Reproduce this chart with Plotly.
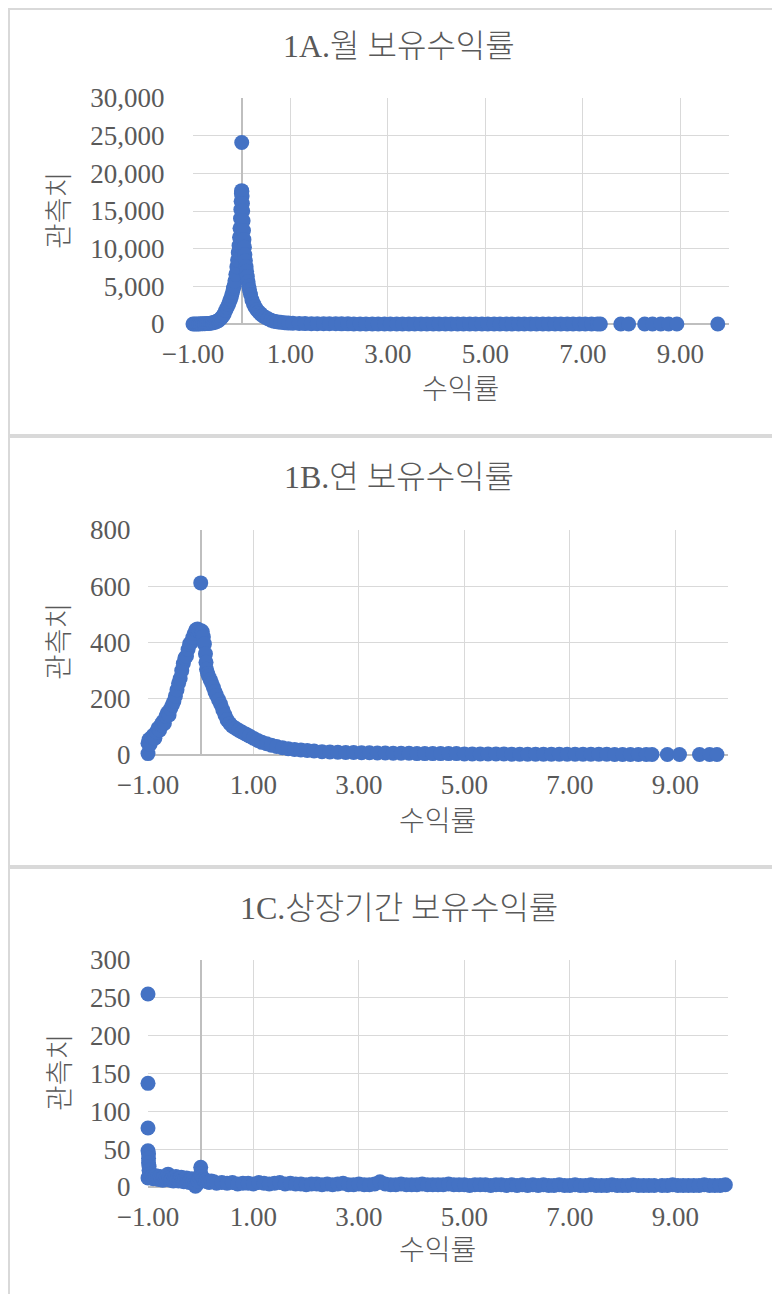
import plotly.graph_objects as go

W, H = 780, 1294
OFF = 8  # page body margin of the html page

# ---------------- data: 1A monthly holding returns ----------------
monthly_x = [
    -1.00, -0.96, -0.92, -0.88, -0.84, -0.80, -0.76, -0.72, -0.68, -0.64,
    -0.60, -0.56, -0.52, -0.48, -0.45, -0.42, -0.39, -0.36, -0.33, -0.30,
    -0.27, -0.25, -0.23, -0.21, -0.19, -0.17, -0.16, -0.14, -0.12, -0.10,
    -0.085, -0.07, -0.055, -0.045, -0.035, -0.025, -0.018, -0.012, -0.006, -0.002,
    0.00, 0.003, 0.008, 0.014, 0.02, 0.028, 0.036, 0.045, 0.055, 0.065,
    0.075, 0.09, 0.10, 0.115, 0.13, 0.145, 0.16, 0.18, 0.21, 0.24,
    0.27, 0.31, 0.35, 0.39, 0.43, 0.48, 0.54, 0.60, 0.66, 0.72,
    0.80, 0.88, 0.96, 1.05, 1.18, 1.30, 1.43, 1.55, 1.68, 1.80,
    1.93, 2.05, 2.18, 2.30, 2.43, 2.55, 2.68, 2.80, 2.93, 3.05,
    3.18, 3.30, 3.43, 3.55, 3.68, 3.80, 3.93, 4.05, 4.18, 4.30,
    4.43, 4.55, 4.68, 4.80, 4.93, 5.05, 5.18, 5.30, 5.43, 5.55,
    5.68, 5.80, 5.93, 6.05, 6.18, 6.30, 6.43, 6.55, 6.68, 6.80,
    6.93, 7.05, 7.18, 7.30, 7.36, 7.78, 7.94, 8.27, 8.43, 8.60,
    8.76, 8.93, 9.77,
]
monthly_y = [
    0, 5, 10, 15, 20, 30, 40, 60, 80, 110,
    150, 220, 320, 450, 600, 800, 1050, 1350, 1800, 2200,
    2600, 3000, 3300, 3700, 4200, 4700, 5000, 5700, 6600, 7600,
    8500, 9500, 10400, 11500, 12700, 14000, 15200, 16300, 17300, 17700,
    24100, 17600, 17000, 16000, 15000, 13700, 12400, 11200, 10200, 9200,
    8400, 7600, 7000, 6300, 5600, 5000, 4500, 3900, 3200, 2700,
    2300, 1900, 1600, 1350, 1100, 900, 700, 500, 380, 300,
    220, 160, 120, 90, 70, 55, 45, 38, 32, 28,
    24, 20, 18, 16, 14, 12, 11, 10, 9, 8,
    7, 7, 6, 6, 5, 5, 5, 4, 4, 4,
    3, 3, 3, 3, 3, 2, 2, 2, 2, 2,
    2, 2, 2, 1, 1, 1, 1, 1, 1, 1,
    1, 1, 1, 1, 1, 1, 1, 1, 1, 1,
    1, 1, 1,
]

# ---------------- data: 1B annual holding returns ----------------
annual_x = [
    -1.00, -1.00, -0.98, -0.96, -0.93, -0.90, -0.87, -0.84, -0.81, -0.78,
    -0.75, -0.72, -0.69, -0.66, -0.63, -0.60, -0.57, -0.54, -0.51, -0.48,
    -0.45, -0.42, -0.39, -0.36, -0.33, -0.30, -0.27, -0.24, -0.21, -0.18,
    -0.15, -0.12, -0.09, -0.06, -0.03, 0.00, 0.01, 0.03, 0.05, 0.07,
    0.09, 0.10, 0.11, 0.13, 0.15, 0.18, 0.21, 0.24, 0.27, 0.30,
    0.34, 0.38, 0.42, 0.46, 0.50, 0.55, 0.60, 0.66, 0.72, 0.78,
    0.85, 0.92, 1.00, 1.08, 1.16, 1.25, 1.34, 1.44, 1.55, 1.66,
    1.78, 1.90, 2.02, 2.15, 2.30, 2.45, 2.60, 2.75, 2.90, 3.05,
    3.20, 3.35, 3.50, 3.65, 3.80, 3.95, 4.10, 4.25, 4.40, 4.55,
    4.70, 4.85, 5.00, 5.15, 5.30, 5.45, 5.60, 5.75, 5.90, 6.05,
    6.20, 6.35, 6.50, 6.65, 6.80, 6.95, 7.10, 7.25, 7.40, 7.55,
    7.70, 7.85, 8.00, 8.15, 8.30, 8.45, 8.56, 8.85, 9.08, 9.46,
    9.65, 9.79,
]
annual_y = [
    5, 42, 55, 38, 62, 70, 60, 82, 95, 88,
    108, 118, 112, 138, 150, 142, 165, 178, 190, 210,
    232, 255, 272, 300, 325, 345, 352, 375, 395, 400,
    418, 432, 445, 448, 440, 612, 442, 438, 420, 395,
    360, 330, 305, 290, 280, 268, 255, 240, 225, 212,
    196, 180, 160, 142, 125, 112, 102, 95, 88, 82,
    75, 68, 60, 52, 45, 40, 35, 30, 26, 22,
    20, 18, 16, 14, 12, 11, 10, 9, 9, 8,
    8, 7, 7, 6, 6, 6, 5, 5, 5, 5,
    5, 5, 4, 4, 4, 4, 4, 4, 3, 3,
    3, 3, 3, 3, 3, 3, 3, 3, 3, 3,
    3, 2, 2, 2, 2, 2, 2, 2, 2, 2,
    2, 2,
]

# ---------------- data: 1C listing-period holding returns ----------------
listing_x = [
    -1.00, -1.00, -1.00, -1.00, -0.99, -0.99, -0.99, -0.98, -0.98, -1.00,
    -0.97, -0.95, -0.92, -0.90, -0.87, -0.85, -0.82, -0.80, -0.77, -0.75,
    -0.72, -0.70, -0.67, -0.65, -0.62, -0.60, -0.57, -0.55, -0.52, -0.50,
    -0.47, -0.45, -0.42, -0.40, -0.37, -0.35, -0.32, -0.30, -0.27, -0.25,
    -0.22, -0.20, -0.17, -0.15, -0.12, -0.10, -0.08, -0.05, -0.02, 0.00,
    0.00, 0.02, 0.05, 0.08, 0.10, 0.13, 0.16, 0.20, 0.25, 0.30,
    0.40, 0.50, 0.60, 0.70, 0.80, 0.90, 1.00, 1.10, 1.20, 1.30,
    1.40, 1.50, 1.60, 1.70, 1.80, 1.90, 2.00, 2.10, 2.20, 2.30,
    2.40, 2.50, 2.60, 2.70, 2.80, 2.90, 3.00, 3.10, 3.20, 3.30,
    3.40, 3.50, 3.60, 3.70, 3.80, 3.90, 4.00, 4.10, 4.20, 4.30,
    4.40, 4.50, 4.60, 4.70, 4.80, 4.90, 5.00, 5.10, 5.20, 5.30,
    5.40, 5.50, 5.60, 5.70, 5.80, 5.90, 6.00, 6.10, 6.20, 6.30,
    6.40, 6.50, 6.60, 6.70, 6.80, 6.90, 7.00, 7.10, 7.20, 7.30,
    7.40, 7.50, 7.60, 7.70, 7.80, 7.90, 8.00, 8.10, 8.20, 8.30,
    8.40, 8.50, 8.60, 8.75, 8.85, 8.95, 9.05, 9.15, 9.25, 9.35,
    9.45, 9.55, 9.65, 9.75, 9.85, 9.95,
]
listing_y = [
    255, 137, 78, 48, 44, 38, 32, 27, 22, 12,
    17, 13, 14, 11, 13, 15, 12, 10, 14, 11,
    9, 13, 10, 12, 17, 12, 9, 11, 8, 12,
    14, 10, 8, 11, 13, 9, 7, 10, 12, 8,
    6, 9, 11, 7, 4, 1, 3, 8, 12, 26,
    18, 14, 10, 8, 9, 7, 6, 8, 7, 5,
    6, 5, 6, 4, 5, 5, 4, 6, 5, 4,
    5, 6, 4, 5, 4, 4, 3, 4, 4, 3,
    4, 3, 4, 5, 3, 3, 4, 3, 3, 4,
    7, 4, 3, 3, 4, 3, 3, 3, 4, 3,
    3, 3, 3, 4, 3, 3, 3, 2, 3, 3,
    3, 2, 3, 3, 2, 3, 2, 3, 2, 3,
    2, 3, 2, 2, 3, 2, 2, 3, 2, 2,
    3, 2, 2, 2, 3, 2, 2, 2, 3, 2,
    2, 2, 2, 2, 2, 3, 2, 2, 2, 2,
    2, 3, 2, 2, 2, 3,
]

titles = ["1A.월 보유수익률", "1B.연 보유수익률", "1C.상장기간 보유수익률"]
x_title = "수익률"
y_title = "관측치"
y_ranges = [30000, 800, 300]
y_dticks = [5000, 200, 50]
x_tick0, x_dtick, x_min, x_max = -1, 2, -1, 10

series = [(monthly_x, monthly_y), (annual_x, annual_y), (listing_x, listing_y)]
for sx, sy in series:
    assert len(sx) == len(sy)

# ---------------- layout geometry (page pixels) ----------------
plot_boxes = [  # left, right, top, bottom
    (193, 729, 98, 324),
    (148, 728, 530, 755),
    (148, 728, 960, 1187),
]
title_pos = [(399, 46), (399, 477), (399, 908)]
xtitle_pos = [(460, 389), (437, 821), (437, 1250)]
ytitle_pos = [(60, 211), (60, 642), (60, 1073)]
ylab_len = [22, 11, 11]

def px(x):
    return (x - OFF) / W

def py(y):
    return 1 - (y - OFF) / H

SERIF = "Liberation Serif, Noto Sans CJK KR, serif"
GREY = "#595959"
BLUE = "#4472C4"

fig = go.Figure()
layout = dict(
    template="none",
    width=W, height=H, autosize=False,
    margin=dict(l=0, r=0, t=0, b=0, pad=0, autoexpand=False),
    paper_bgcolor="white", plot_bgcolor="white",
    showlegend=False,
    font=dict(family=SERIF, color=GREY, size=26, weight=300),
    annotations=[], shapes=[],
)

for i, ((sx, sy), (l, r, t, b)) in enumerate(zip(series, plot_boxes)):
    n = "" if i == 0 else str(i + 1)
    fig.add_trace(go.Scatter(
        x=sx, y=sy, mode="markers", xaxis="x" + n, yaxis="y" + n,
        marker=dict(size=15, color=BLUE, line=dict(width=0)),
        cliponaxis=False, hoverinfo="skip",
    ))
    layout["xaxis" + n] = dict(
        domain=[px(l), px(r)], anchor="y" + n, automargin=False,
        range=[x_min, x_max], tick0=x_tick0, dtick=x_dtick,
        tickformat=".2f", showgrid=True, gridcolor="#D9D9D9", gridwidth=1.2,
        zeroline=True, zerolinecolor="#BFBFBF", zerolinewidth=1.5,
        showline=False, ticks="outside", ticklen=6, tickcolor="rgba(0,0,0,0)",
        tickfont=dict(family=SERIF, size=27, color=GREY, weight=300), fixedrange=True,
    )
    layout["yaxis" + n] = dict(
        domain=[py(b), py(t)], anchor="x" + n, automargin=False,
        range=[0, y_ranges[i]], dtick=y_dticks[i], tick0=0,
        tickformat=",", showgrid=True, gridcolor="#D9D9D9", gridwidth=1.2,
        zeroline=True, zerolinecolor="#BFBFBF", zerolinewidth=1.5,
        showline=False, ticks="outside", ticklen=ylab_len[i], tickcolor="rgba(0,0,0,0)",
        tickfont=dict(family=SERIF, size=27, color=GREY, weight=300), fixedrange=True,
    )
    tx, ty = title_pos[i]
    layout["annotations"].append(dict(
        text=titles[i], x=px(tx), y=py(ty), xref="paper", yref="paper",
        xanchor="center", yanchor="middle", showarrow=False,
        font=dict(family=SERIF, size=32, color=GREY, weight=300)))
    ax_, ay_ = xtitle_pos[i]
    layout["annotations"].append(dict(
        text=x_title, x=px(ax_), y=py(ay_), xref="paper", yref="paper",
        xanchor="center", yanchor="middle", showarrow=False,
        font=dict(family=SERIF, size=28, color=GREY, weight=300)))
    bx, by = ytitle_pos[i]
    layout["annotations"].append(dict(
        text=y_title, x=px(bx), y=py(by), xref="paper", yref="paper",
        xanchor="center", yanchor="middle", showarrow=False, textangle=-90,
        font=dict(family=SERIF, size=28, color=GREY, weight=300)))

# panel frames (left edge kept just inside the figure)
frames = [(9, 9, 435), (9, 437, 866), (9, 868, 1330)]
for fx, ft, fb in frames:
    layout["shapes"].append(dict(
        type="rect", xref="paper", yref="paper",
        x0=px(fx), x1=px(W + 40), y0=py(fb), y1=py(ft),
        line=dict(color="#D9D9D9", width=2), fillcolor="rgba(0,0,0,0)", layer="below"))

fig.update_layout(**layout)
fig.write_html("out.html")
